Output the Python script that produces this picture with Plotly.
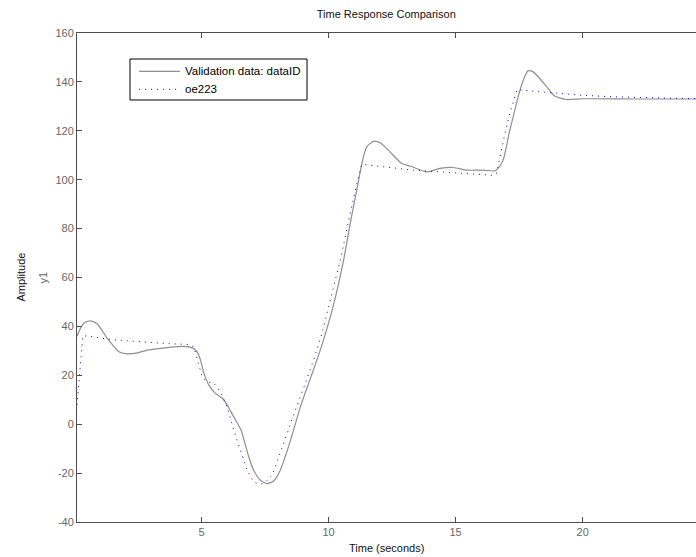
import plotly.graph_objects as go

# Measured output (validation data set "dataID")
t_meas = [0.10, 0.25, 0.40, 0.64, 0.90, 1.30, 1.75, 2.08, 2.48, 2.87, 3.39, 3.91,
          4.30, 4.63, 4.83, 4.96, 5.09, 5.29, 5.55, 5.81, 6.01, 6.27, 6.46, 6.56,
          6.70, 6.86, 7.05, 7.32, 7.58, 7.84, 8.10, 8.36, 8.62, 8.89, 9.21, 9.54,
          9.80, 10.20, 10.59, 10.85, 11.11, 11.31, 11.50, 11.77, 12.03, 12.42,
          12.88, 13.21, 13.86, 14.38, 14.91, 15.43, 16.08, 16.54, 16.67, 16.87,
          17.13, 17.20, 17.46, 17.66, 17.85, 18.05, 18.31, 18.64, 18.90, 19.36,
          20.00, 22.00, 24.50]
y_meas = [36.0, 39.5, 41.6, 42.3, 41.0, 35.0, 29.6, 28.8, 29.2, 30.3, 31.0, 31.6,
          31.8, 31.2, 29.6, 26.2, 21.0, 16.0, 12.6, 10.7, 7.8, 3.0, -0.5, -2.5,
          -7.5, -13.4, -18.8, -22.9, -24.3, -23.2, -18.8, -11.2, -2.5, 7.1, 16.6, 26.2,
          34.4, 49.0, 67.0, 82.0, 95.7, 106.6, 113.4, 115.7, 115.1, 111.4,
          106.6, 105.6, 103.2, 104.6, 105.0, 103.9, 103.9, 103.6, 104.6, 108.0,
          120.2, 123.0, 133.9, 140.7, 144.5, 144.1, 141.4, 137.3, 134.2, 132.8,
          133.1, 133.0, 133.0]

# Simulated output of model oe223
t_model = [0.10, 0.20, 0.27, 0.33, 0.57, 1.30, 2.08, 2.87, 3.78, 4.50, 4.70, 4.83,
           5.03, 5.22, 5.48, 5.75, 6.01, 6.27, 6.53, 6.79, 7.05, 7.25, 7.45, 7.78,
           8.04, 8.36, 8.69, 9.08, 9.41, 9.74, 10.06, 10.46, 10.85, 11.11, 11.31,
           12.03, 12.29, 13.34, 14.38, 15.43, 16.48, 16.61, 16.74, 16.94, 17.13,
           17.33, 17.42, 17.92, 18.83, 19.88, 21.19, 22.50, 24.50]
y_model = [7.8, 20.0, 32.0, 36.2, 36.0, 34.8, 34.1, 33.4, 32.9, 32.6, 31.6, 26.5,
           19.3, 17.3, 16.8, 13.2, 7.1, -2.5, -10.6, -18.8, -23.6, -24.5, -24.3, -20.9,
           -13.4, -3.8, 5.7, 16.6, 26.2, 37.1, 50.7, 67.0, 86.2, 98.4, 106.3,
           105.5, 105.2, 103.9, 103.2, 102.5, 101.8, 102.5, 109.3, 118.9, 127.0,
           134.6, 136.9, 136.3, 135.5, 134.6, 133.9, 133.5, 133.1]

series_names = ["Validation data: dataID", "oe223"]
x_ticks = [5, 10, 15, 20]
y_ticks = [-40, -20, 0, 20, 40, 60, 80, 100, 120, 140, 160]

FONT = "Liberation Sans, Arial, sans-serif"
AXIS = "#4d4d4d"
TICKTXT = "#666666"
MEAS_COLOR = "#8f8f8f"
MODEL_COLOR = "#0000ff"
MODEL_DASH = "1px,5px"

fig = go.Figure()
fig.add_trace(go.Scatter(
    x=t_meas, y=y_meas, mode="lines", name=series_names[0], showlegend=False,
    line=dict(color=MEAS_COLOR, width=1.2, shape="spline", smoothing=0.6),
))
fig.add_trace(go.Scatter(
    x=t_model, y=y_model, mode="lines", name=series_names[1], showlegend=False,
    line=dict(color=MODEL_COLOR, width=1, dash=MODEL_DASH),
))

# Legend box drawn in paper coordinates (upper-left inside the axes)
box = dict(x0=0.0856, x1=0.3716, y0=0.863, y1=0.9468)
rows_y = [0.9217, 0.8849]
sample_x = (0.1002, 0.1664)
text_x = 0.1715
shapes = [dict(type="rect", xref="paper", yref="paper", **box,
               line=dict(color="black", width=1), fillcolor="white", layer="above")]
legend_styles = [dict(color=MEAS_COLOR, width=1.2),
                 dict(color=MODEL_COLOR, width=1, dash=MODEL_DASH)]
annotations = []
for name, yy, st in zip(series_names, rows_y, legend_styles):
    shapes.append(dict(type="line", xref="paper", yref="paper",
                       x0=sample_x[0], x1=sample_x[1], y0=yy, y1=yy,
                       line=st, layer="above"))
    annotations.append(dict(text=name, xref="paper", yref="paper", x=text_x, y=yy,
                            xanchor="left", yanchor="middle", showarrow=False,
                            font=dict(family=FONT, size=11.5, color="black")))

annotations += [
    dict(text="Time (seconds)", xref="paper", yref="paper", x=0.5, y=-0.053,
         xanchor="center", yanchor="middle", showarrow=False,
         font=dict(family=FONT, size=11, color="#111111")),
    dict(text="Amplitude", xref="paper", yref="paper", x=-0.092, y=0.5,
         xanchor="center", yanchor="middle", textangle=-90, showarrow=False,
         font=dict(family=FONT, size=11, color="#111111")),
    dict(text="y1", xref="paper", yref="paper", x=-0.055, y=0.5,
         xanchor="center", yanchor="middle", textangle=-90, showarrow=False,
         font=dict(family=FONT, size=11, color=TICKTXT)),
]

fig.update_layout(
    width=696, height=557,
    margin=dict(l=77, r=0, t=33, b=35),
    paper_bgcolor="white", plot_bgcolor="white",
    font=dict(family=FONT, size=11, color=TICKTXT),
    showlegend=False,
    title=dict(
        text="Time Response Comparison", x=0.555, xanchor="center",
        y=1 - 14 / 557, yanchor="middle", yref="container",
        font=dict(family=FONT, size=11, color="#111111"),
    ),
    xaxis=dict(
        range=[0.1, 24.46], tickvals=x_ticks, ticktext=[str(v) for v in x_ticks],
        ticks="inside", ticklen=5, tickcolor=AXIS, tickwidth=1,
        showline=True, linecolor=AXIS, linewidth=1, mirror="ticks",
        showgrid=False, zeroline=False,
        tickfont=dict(family=FONT, size=11, color=TICKTXT),
    ),
    yaxis=dict(
        range=[-40, 160], tickvals=y_ticks, ticktext=[str(v) for v in y_ticks],
        ticks="inside", ticklen=5, tickcolor=AXIS, tickwidth=1,
        showline=True, linecolor=AXIS, linewidth=1, mirror=False,
        showgrid=False, zeroline=False,
        tickfont=dict(family=FONT, size=11, color=TICKTXT),
    ),
    shapes=shapes,
    annotations=annotations,
)

fig.write_html("out.html")
